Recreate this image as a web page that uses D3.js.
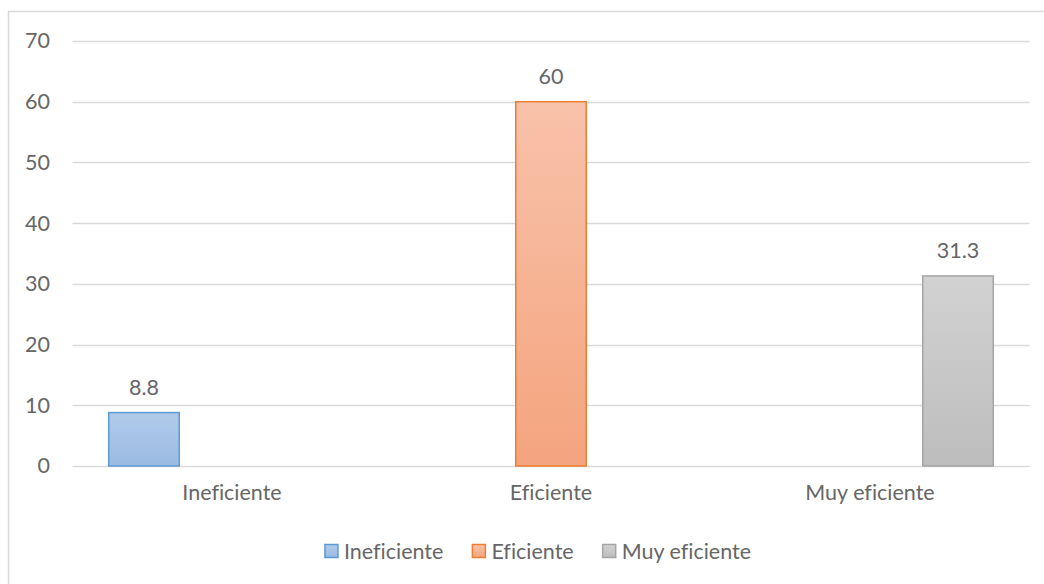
<!DOCTYPE html>
<html>
<head>
<meta charset="utf-8">
<script src="https://cdn.jsdelivr.net/npm/d3@7"></script>
<style>
  html, body { margin: 0; padding: 0; background: #ffffff; }
  svg { display: block; }
  text { font-family: Lato, "Open Sans", sans-serif; fill: #666666; font-variant-ligatures: none; }
</style>
</head>
<body>
<svg id="chart" width="1044" height="584"></svg>
<script>
// Categories and one series per category (each series only has a value in its own category)
const categories = ["Ineficiente", "Eficiente", "Muy eficiente"];
const seriesNames = ["Ineficiente", "Eficiente", "Muy eficiente"];
const seriesValues = [
  [8.8, null, null],
  [null, 60, null],
  [null, null, 31.3]
];
const yTicks = [0, 10, 20, 30, 40, 50, 60, 70];

const fills = [
  { top: "#b1cae9", bottom: "#9bbbe3", stroke: "#5b9bd5" },
  { top: "#f8c2aa", bottom: "#f4a47e", stroke: "#ed7d31" },
  { top: "#d2d2d2", bottom: "#bdbdbd", stroke: "#a5a5a5" }
];

const fontSize = 21.5;
const textColor = "#666666";
const svg = d3.select("#chart");

// outer chart frame
svg.append("rect")
  .attr("x", 8.5).attr("y", 11.5)
  .attr("width", 1100).attr("height", 700)
  .attr("fill", "none").attr("stroke", "#d9d9d9").attr("stroke-width", 1.5);

const plot = { left: 72.5, right: 1029.5, top: 41, bottom: 466 };

const x0 = d3.scaleBand().domain(categories).range([plot.left, plot.right]).paddingInner(0).paddingOuter(0);
const x1 = d3.scaleBand().domain(d3.range(seriesNames.length))
  .range([0, x0.bandwidth()]).paddingInner(0.182).paddingOuter(0.403);
const y = d3.scaleLinear().domain([0, 70]).range([plot.bottom, plot.top]);

// gradients
const defs = svg.append("defs");
fills.forEach((f, i) => {
  const g = defs.append("linearGradient").attr("id", "grad" + i)
    .attr("x1", 0).attr("y1", 0).attr("x2", 0).attr("y2", 1);
  g.append("stop").attr("offset", "0%").attr("stop-color", f.top);
  g.append("stop").attr("offset", "100%").attr("stop-color", f.bottom);
});

// gridlines
svg.append("g").selectAll("line").data(yTicks).join("line")
  .attr("x1", plot.left).attr("x2", plot.right)
  .attr("y1", d => Math.round(y(d)) + 0.5).attr("y2", d => Math.round(y(d)) + 0.5)
  .attr("stroke", "#d9d9d9").attr("stroke-width", 1.5);

// y axis labels
const yAxis = d3.axisLeft(y).tickValues(yTicks).tickSize(0).tickPadding(0);
const yg = svg.append("g").attr("transform", `translate(50,0)`).call(yAxis);
yg.select(".domain").remove();
yg.selectAll("text").style("font-size", fontSize + "px").attr("fill", textColor)
  .style("font-family", "Lato, sans-serif");

// x axis labels
const xAxis = d3.axisBottom(x0).tickSize(0).tickPadding(0);
const xg = svg.append("g").attr("transform", `translate(0,485)`).call(xAxis);
xg.select(".domain").remove();
xg.selectAll("text").style("font-size", fontSize + "px").attr("fill", textColor)
  .style("font-family", "Lato, sans-serif");

// bars
const bars = [];
seriesValues.forEach((vals, si) => {
  vals.forEach((v, ci) => {
    if (v !== null) bars.push({ si, ci, v });
  });
});

svg.append("g").selectAll("rect").data(bars).join("rect")
  .attr("x", d => x0(categories[d.ci]) + x1(d.si) + 0.75)
  .attr("width", x1.bandwidth() - 1.5)
  .attr("y", d => y(d.v))
  .attr("height", d => y(0) - y(d.v))
  .attr("fill", d => `url(#grad${d.si})`)
  .attr("stroke", d => fills[d.si].stroke)
  .attr("stroke-width", 1.5);

// data labels
svg.append("g").selectAll("text").data(bars).join("text")
  .attr("x", d => x0(categories[d.ci]) + x1(d.si) + x1.bandwidth() / 2)
  .attr("y", d => y(d.v) - 18)
  .attr("text-anchor", "middle")
  .style("font-size", fontSize + "px")
  .text(d => String(d.v));

// legend
const legend = svg.append("g");
const sq = 13, sqGap = 6, itemGap = 29;
const items = legend.selectAll("g").data(seriesNames).join("g");
items.append("rect")
  .attr("width", sq).attr("height", sq).attr("y", -sq / 2)
  .attr("fill", (d, i) => `url(#grad${i})`)
  .attr("stroke", (d, i) => fills[i].stroke).attr("stroke-width", 1.5);
items.append("text")
  .attr("x", sq + sqGap).attr("dy", "0.35em")
  .style("font-size", fontSize + "px")
  .text(d => d);
const widths = [];
items.each(function () {
  const w = sq + sqGap + this.querySelector("text").getComputedTextLength();
  widths.push(w);
});
const total = d3.sum(widths) + itemGap * (widths.length - 1);
let start = 538 - total / 2;
items.attr("transform", (d, i) => {
  const t = `translate(${start},551)`;
  start += widths[i] + itemGap;
  return t;
});
</script>
</body>
</html>
